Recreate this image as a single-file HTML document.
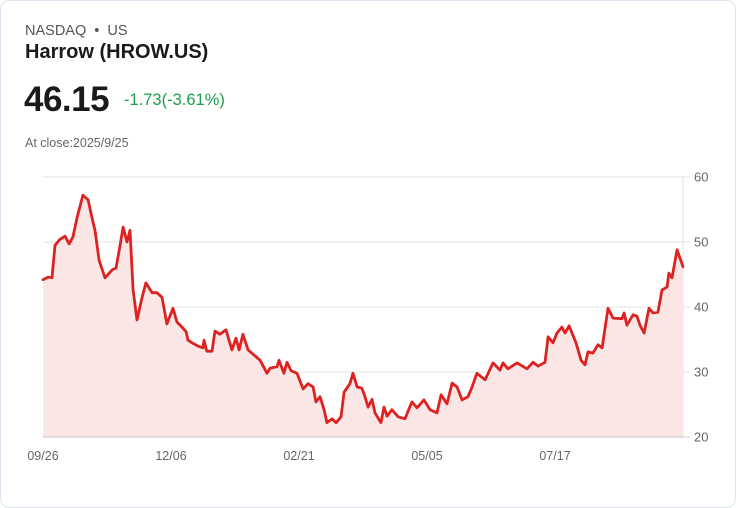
<!DOCTYPE html>
<html><head><meta charset="utf-8"><style>
html,body{margin:0;padding:0;background:#fff;}
body{width:736px;height:508px;overflow:hidden;font-family:"Liberation Sans",sans-serif;}
.card{position:absolute;left:0;top:0;width:734px;height:506px;border:1px solid #dde3ee;border-radius:10px;background:#fff;}
.t{position:absolute;white-space:nowrap;}
</style></head><body>
<div class="card"></div>
<div class="t" style="left:25px;top:23px;font-size:14.5px;color:#555;">NASDAQ &nbsp;•&nbsp; US</div>
<div class="t" style="left:25px;top:41px;font-size:20px;font-weight:bold;color:#1a1a1a;">Harrow (HROW.US)</div>
<div class="t" style="left:24px;top:80px;font-size:35px;font-weight:bold;color:#1a1a1a;letter-spacing:-0.5px;">46.15</div>
<div class="t" style="left:124px;top:91px;font-size:16.5px;color:#1e9e4a;">-1.73(-3.61%)</div>
<div class="t" style="left:25px;top:136px;font-size:12.5px;color:#666;">At close:2025/9/25</div>
<svg id="chart" width="736" height="508" style="position:absolute;left:0;top:0;" xmlns="http://www.w3.org/2000/svg"></svg>
<script>
const days=[0,2,3.5,4.7,6.6,8.6,10.2,11.7,13.3,15.6,17.6,19.1,20.3,21.9,24.2,27,28.5,30.1,31.3,32.8,34,35.2,36.7,38.7,40.2,42.6,44.5,46.5,48.4,50.8,52.3,54.3,55.9,56.6,58.2,60.5,62.5,62.9,64,66,67.2,69.1,71.5,73.8,75.4,76.6,78.1,80.1,82.8,84.8,87.5,88.7,91.4,92.2,94.1,95.3,96.9,99.2,101.6,103.5,105.5,106.6,108.2,109.8,110.9,112.9,114.5,116.4,117.6,119.9,121.1,122.7,124.6,125.8,127,128.5,129.7,132,133.2,134.4,136.3,138.7,141.4,144.1,146.1,148.8,151.2,153.9,155.5,157.8,159.8,161.7,163.7,166,167.6,169.5,172.7,175.8,178.5,179.7,181.6,185.2,189.1,191.4,193.4,196.1,197.3,199.2,200.8,202.7,203.9,205.5,208.2,210.2,211.7,212.9,214.8,216.8,218.4,220.7,222.7,226.2,227,228.1,230.5,232,233.2,234.8,236.7,238.3,240.2,241.8,243.8,244.5,245.7,247.7,250];
const prices=[44.2,44.6,44.5,49.5,50.4,50.9,49.7,50.8,53.7,57.2,56.5,53.8,51.8,47.2,44.5,45.7,46,49.5,52.3,50,51.8,42.6,38,41.5,43.7,42.2,42.2,41.5,37.4,39.8,37.7,36.9,36.2,34.9,34.5,34,33.7,34.9,33.2,33.2,36.3,35.8,36.5,33.4,35.2,33.4,35.8,33.4,32.5,31.8,29.8,30.6,30.8,31.8,29.8,31.5,30.2,29.8,27.4,28.2,27.7,25.4,26.2,24.2,22.2,22.8,22.2,23.1,26.9,28.2,29.8,27.7,27.5,26.2,24.6,25.8,23.7,22.2,24.6,23.2,24.2,23.1,22.8,25.4,24.5,25.7,24.2,23.7,26.5,25.1,28.3,27.7,25.7,26.2,27.7,29.8,28.8,31.4,30.3,31.4,30.5,31.4,30.5,31.5,30.9,31.5,35.4,34.5,36,36.9,36,37.1,34.5,31.8,31.1,33.1,32.9,34.2,33.7,39.8,38.3,38.2,39.1,37.2,38.8,38.6,37.2,36,39.8,39.1,39.2,42.6,43.1,45.2,44.5,48.8,46.2];
const yTicks=[20,30,40,50,60];
const xTickDays=[0,50,100,150,200];
const xTickLabels=["09/26","12/06","02/21","05/05","07/17"];
const NS="http://www.w3.org/2000/svg";
const svg=document.getElementById('chart');
const X0=43,X1=683,Y0=437,Y1=177,DMAX=250,PMIN=20,PMAX=60;
const xs=d=>X0+(X1-X0)*d/DMAX;
const ys=p=>Y0-(Y0-Y1)*(p-PMIN)/(PMAX-PMIN);
function mk(tag,attrs){const e=document.createElementNS(NS,tag);for(const k in attrs)e.setAttribute(k,attrs[k]);svg.appendChild(e);return e;}
yTicks.forEach(v=>{
  const g=mk('line',{x1:X0,x2:690,y1:ys(v),y2:ys(v),stroke:v===20?'#cfcfcf':'#e3e3e3','stroke-width':1});
  
  
  const t=mk('text',{x:694,y:ys(v)+4.5,'font-size':13,fill:'#666','font-family':'Liberation Sans, sans-serif'});
  t.textContent=v;
  
  
});
const vl=mk('line',{x1:X1,x2:X1,y1:Y1,y2:Y0,stroke:'#e3e3e3','stroke-width':1});


let d='';
days.forEach((dd,i)=>{d+=(i?'L':'M')+xs(dd).toFixed(1)+','+ys(prices[i]).toFixed(1);});
const area=mk('path',{d:d+'L'+xs(days[days.length-1])+','+Y0+'L'+xs(days[0])+','+Y0+'Z',fill:'#fbe6e6'});


const bl=mk('line',{x1:X0,x2:X1,y1:Y0,y2:Y0,stroke:'#cfcfcf','stroke-width':1.2});


const line=mk('path',{d:d,fill:'none',stroke:'#dd2222','stroke-width':2.8,'stroke-linejoin':'round','stroke-linecap':'round'});


xTickDays.forEach((dd,i)=>{
  const t=mk('text',{x:xs(dd),y:460,'font-size':12.5,fill:'#666','text-anchor':'middle','font-family':'Liberation Sans, sans-serif'});
  t.textContent=xTickLabels[i];
  
  
});
</script>
</body></html>
